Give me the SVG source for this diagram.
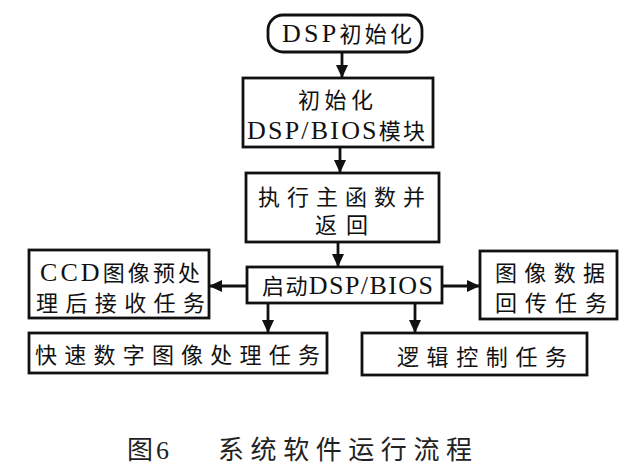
<svg xmlns="http://www.w3.org/2000/svg" width="631" height="475" viewBox="0 0 631 475">
<style>
.box{fill:#fff;stroke:#111;stroke-width:2.8}
.t{font-family:"Liberation Serif","Noto Sans CJK SC",serif;font-size:22px;fill:#111}
.l{font-size:26px}
.cap{font-family:"Liberation Serif","Noto Sans CJK SC",serif;font-size:26px;fill:#222}
.ln{stroke:#111;stroke-width:2.8;fill:none;marker-end:url(#ah)}
</style>
<defs>
<marker id="ah" markerUnits="userSpaceOnUse" markerWidth="14" markerHeight="12" refX="13" refY="6" orient="auto">
<path d="M0,0 L13,6 L0,12 Z" fill="#111"/>
</marker>
</defs>
<rect width="631" height="475" fill="#fff"/>
<g id="connectors">
<line class="ln" x1="342" y1="52" x2="342" y2="78"/>
<line class="ln" x1="340" y1="147" x2="340" y2="173"/>
<line class="ln" x1="338" y1="242" x2="338" y2="267"/>
<line class="ln" x1="247" y1="286" x2="209" y2="286"/>
<line class="ln" x1="442" y1="286" x2="480" y2="286"/>
<line class="ln" x1="268" y1="303" x2="268" y2="333"/>
<line class="ln" x1="415" y1="303" x2="415" y2="333"/>
</g>
<g id="start">
<rect class="box" x="268" y="15" width="154" height="37" rx="15"/>
<text class="t" x="282" y="42" textLength="130" lengthAdjust="spacing"><tspan class="l">DSP</tspan>初始化</text>
</g>
<g id="init">
<rect class="box" x="243" y="78" width="190" height="69"/>
<text class="t" x="298" y="108" textLength="75" lengthAdjust="spacing">初始化</text>
<text class="t" x="247" y="139" textLength="178" lengthAdjust="spacing"><tspan class="l">DSP/BIOS</tspan>模块</text>
</g>
<g id="main">
<rect class="box" x="246" y="173" width="193" height="69"/>
<text class="t" x="258" y="205" textLength="167" lengthAdjust="spacing">执行主函数并</text>
<text class="t" x="315" y="233" textLength="53" lengthAdjust="spacing">返回</text>
</g>
<g id="startbios">
<rect class="box" x="247" y="267" width="195" height="36"/>
<text class="t" x="262" y="294" textLength="171" lengthAdjust="spacing">启动<tspan class="l">DSP/BIOS</tspan></text>
</g>
<g id="ccd">
<rect class="box" x="29" y="250" width="180" height="68"/>
<text class="t" x="40" y="281" textLength="160" lengthAdjust="spacing"><tspan class="l">CCD</tspan>图像预处</text>
<text class="t" x="36" y="311" textLength="169" lengthAdjust="spacing">理后接收任务</text>
</g>
<g id="send">
<rect class="box" x="480" y="251" width="137" height="68"/>
<text class="t" x="495" y="281" textLength="110" lengthAdjust="spacing">图像数据</text>
<text class="t" x="495" y="311" textLength="112" lengthAdjust="spacing">回传任务</text>
</g>
<g id="fast">
<rect class="box" x="29" y="333" width="298" height="40"/>
<text class="t" x="35" y="363" textLength="285" lengthAdjust="spacing">快速数字图像处理任务</text>
</g>
<g id="logic">
<rect class="box" x="362" y="333" width="225" height="42"/>
<text class="t" x="397" y="365" textLength="170" lengthAdjust="spacing">逻辑控制任务</text>
</g>
<text class="cap" x="127" y="459">图</text>
<text class="cap" x="156" y="459">6</text>
<text class="cap" x="218" y="459" textLength="254" lengthAdjust="spacing">系统软件运行流程</text>
</svg>
